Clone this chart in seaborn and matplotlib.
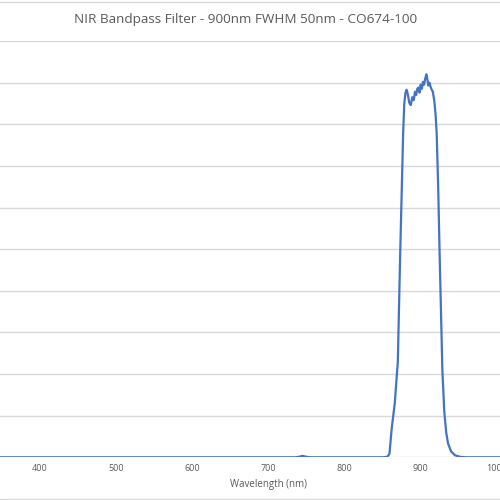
import matplotlib
matplotlib.use("Agg")
import matplotlib.pyplot as plt
import seaborn as sns
import pandas as pd
from matplotlib.lines import Line2D

# dane (nm, % transmisji)
wavelength = [340, 400, 500, 600, 700, 735, 741, 745, 749, 755, 800, 850,
              856, 859, 862, 866, 870, 873, 877, 878.5, 880, 881.5, 883,
              885, 887, 889, 891, 892.5, 894, 895.5, 897, 898.5, 900, 901.5,
              903, 904.5, 906, 907.5, 908.5, 910, 911.5, 913, 914.5, 916,
              918, 919.5, 921, 923, 925, 928.5, 931, 933.5, 936, 940, 945,
              952, 960, 1000, 1010]
transmission = [0, 0, 0, 0, 0, 0, 0.15, 0.35, 0.15, 0, 0, 0,
                0.1, 0.8, 7, 13, 23, 48, 78, 85, 87.5, 88.3, 87.3,
                85.2, 84.6, 86.5, 85.8, 87.8, 87, 88.5, 88.8, 87.6, 89.5, 88.5,
                90.2, 89.5, 91, 92, 91.2, 89.3, 90, 89, 88.3, 87.8,
                85.5, 82.5, 78, 65, 48, 21, 11, 6, 3.3, 1.4, 0.5,
                0.1, 0, 0, 0]
x_ticks = [400, 500, 600, 700, 800, 900, 1000]
y_grid = [0, 10, 20, 30, 40, 50, 60, 70, 80, 90, 100]

TITLE = "NIR Bandpass Filter - 900nm FWHM 50nm - CO674-100"
SZARY = "#595959"

sns.set_style("white")
plt.rcParams['font.family'] = ['Open Sans', 'DejaVu Sans']

df = pd.DataFrame({"Wavelength (nm)": wavelength, "Transmission": transmission})

fig = plt.figure(figsize=(5, 5), dpi=100)
ax = fig.add_axes([0, 0.0854, 1, 0.8326])

sns.lineplot(data=df, x="Wavelength (nm)", y="Transmission", ax=ax,
             color="#4472C4", linewidth=1.6, zorder=5)

ax.set_xlim(347.5, 1004.2)
ax.set_ylim(0, 100)
ax.set_yticks(y_grid)
ax.set_yticklabels([])
ax.set_xticks(x_ticks)
ax.yaxis.grid(True, color="#d9d9d9", linewidth=1)
ax.xaxis.grid(False)
ax.tick_params(axis="y", length=0)
ax.tick_params(axis="x", length=0, labelsize=6.5, colors=SZARY, pad=5)
for s in ax.spines.values():
    s.set_visible(False)

ax.set_ylabel("")
ax.set_xlabel("Wavelength (nm)", fontsize=7, color=SZARY)
ax.xaxis.set_label_coords(0.537, -0.0665)
ax.xaxis.label.set_va("center")

fig.text(0.491, 0.962, TITLE, ha="center", va="center", fontsize=9.7, color=SZARY)

# ramka wykresu (góra / dół)
fig.add_artist(Line2D([0, 1], [0.997, 0.997], color="#d9d9d9", linewidth=1))
fig.add_artist(Line2D([0, 1], [0.003, 0.003], color="#d9d9d9", linewidth=1))

fig.savefig("out.png", dpi=100)
